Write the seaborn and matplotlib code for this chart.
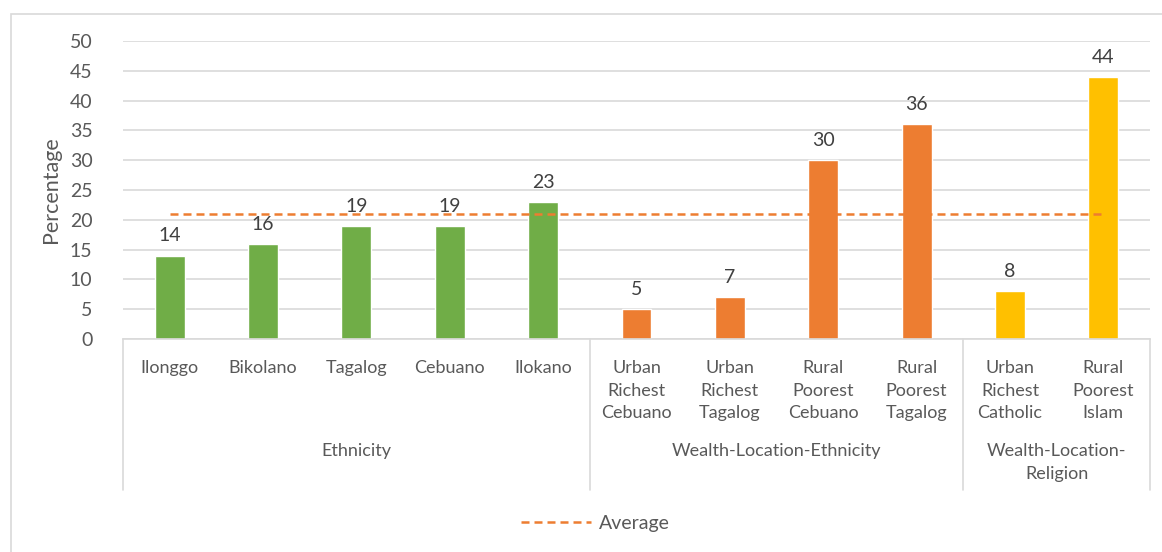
import matplotlib
matplotlib.use("Agg")
import matplotlib.pyplot as plt
import matplotlib.transforms as mtransforms
from matplotlib.patches import Rectangle
from matplotlib.lines import Line2D
import seaborn as sns
import pandas as pd

categories = ["Ilonggo", "Bikolano", "Tagalog", "Cebuano", "Ilokano",
              "Urban\nRichest\nCebuano", "Urban\nRichest\nTagalog",
              "Rural\nPoorest\nCebuano", "Rural\nPoorest\nTagalog",
              "Urban\nRichest\nCatholic", "Rural\nPoorest\nIslam"]
values = [14, 16, 19, 19, 23, 5, 7, 30, 36, 8, 44]
groups = ["Ethnicity"] * 5 + ["Wealth-Location-Ethnicity"] * 4 + ["Wealth-Location-Religion"] * 2
group_labels = ["Ethnicity", "Wealth-Location-Ethnicity", "Wealth-Location-\nReligion"]
group_colors = ["#70AD47", "#ED7D31", "#FFC000"]
average = 21
yticks = [0, 5, 10, 15, 20, 25, 30, 35, 40, 45, 50]

sns.set_theme(style="white")
plt.rcParams["font.family"] = ["Lato", "DejaVu Sans"]
TXT = "#595959"
GRID = "#D9D9D9"

df = pd.DataFrame({"cat": categories, "val": values, "grp": groups})

fig = plt.figure(figsize=(11.62, 5.52), dpi=100)
ax = fig.add_axes([123 / 1162, 1 - 339 / 552, (1150 - 123) / 1162, (339 - 41) / 552])

uniq_groups = list(dict.fromkeys(groups))
sns.barplot(data=df, x="cat", y="val", hue="grp", hue_order=uniq_groups,
            palette=dict(zip(uniq_groups, group_colors)), dodge=False,
            width=0.32, legend=False, ax=ax, order=categories, saturation=1)

for cont in ax.containers:
    ax.bar_label(cont, fmt="%g", padding=8, fontsize=14, color="#404040")

ax.plot([0, len(categories) - 1], [average, average], color="#ED7D31",
        lw=1.8, ls=(0, (3.2, 2)), zorder=3)

ax.set_ylim(0, 50)
ax.set_xlim(-0.5, len(categories) - 0.5)
ax.set_yticks(yticks)
ax.set_yticklabels([str(t) for t in yticks], fontsize=14, color=TXT)
ax.yaxis.grid(True, color=GRID, lw=1.2)
ax.set_axisbelow(True)
for s in ["left", "right", "top"]:
    ax.spines[s].set_visible(False)
ax.spines["bottom"].set_color(GRID)
ax.spines["bottom"].set_linewidth(1.2)
ax.tick_params(axis="y", length=0, pad=22)
ax.tick_params(axis="x", length=0, pad=15)
ax.set_xticks(range(len(categories)))
ax.set_xticklabels(categories, fontsize=13, color=TXT, linespacing=1.52, va="top")
ax.set_xlabel("")
ax.set_ylabel("Percentage", fontsize=15.5, color=TXT, labelpad=6)

# group separators and labels
trans = mtransforms.blended_transform_factory(ax.transData, ax.transAxes)
sizes = [groups.count(g) for g in uniq_groups]
edges = [-0.5]
for s in sizes:
    edges.append(edges[-1] + s)
for e in edges:
    ax.plot([e, e], [0, -151 / 298], transform=trans, color=GRID, lw=1.2, clip_on=False)
for i, lab in enumerate(group_labels):
    cx = (edges[i] + edges[i + 1]) / 2
    ax.text(cx, -(453 - 339 - 10) / 298, lab, transform=trans, ha="center", va="top",
            fontsize=13, color=TXT, linespacing=1.52)

# outer frame
fig.patches.append(Rectangle((11 / 1162, -0.1), 1.2, 1 - 14 / 552 + 0.1,
                             transform=fig.transFigure, fill=False,
                             edgecolor=GRID, lw=1.2))

fig.legend([Line2D([0], [0], color="#ED7D31", lw=1.8, ls=(0, (3.2, 2)))], ["Average"],
           loc="center", bbox_to_anchor=(595 / 1162, 1 - 523 / 552), frameon=False,
           fontsize=14, handlelength=3.6, handletextpad=0.4, labelcolor=TXT)

fig.savefig("out.png", dpi=100)
